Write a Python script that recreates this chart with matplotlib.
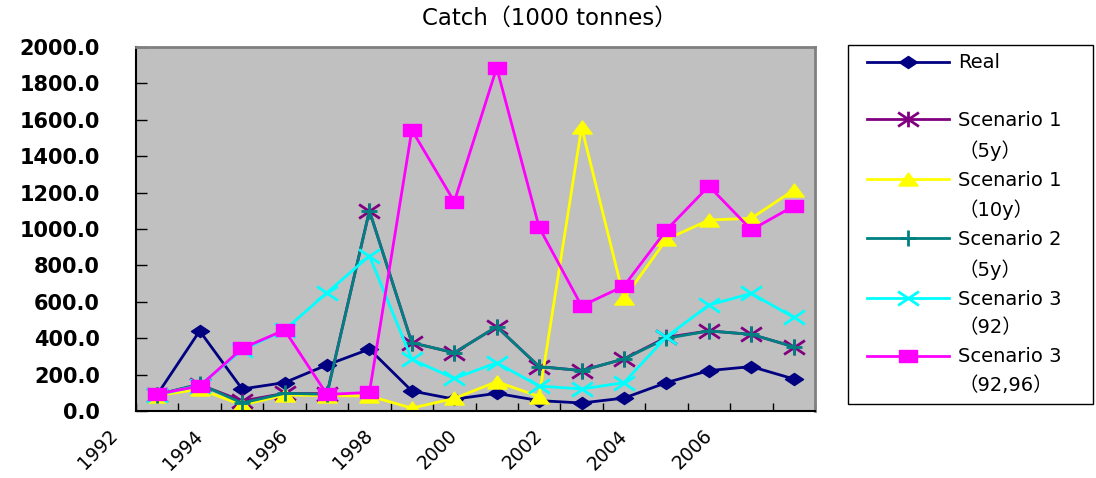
import numpy as np
import matplotlib
matplotlib.use("Agg")
import matplotlib.pyplot as plt
from matplotlib.path import Path
from matplotlib.lines import Line2D
from matplotlib.legend_handler import HandlerLine2D
import matplotlib.transforms as mtransforms

# ---------------- data ----------------
years = list(range(1992, 2008))
tick_years = [1992, 1994, 1996, 1998, 2000, 2002, 2004, 2006]
yticks = [0, 200, 400, 600, 800, 1000, 1200, 1400, 1600, 1800, 2000]

real = [90, 440, 121, 156, 253, 340, 110, 65, 97, 57, 44, 71, 156, 222, 244, 176]
scen1_5y = [90, 145, 55, 97, 95, 1100, 375, 320, 463, 244, 222, 286, 405, 440, 421, 353]
scen1_10y = [85, 120, 33, 88, 85, 82, 16, 69, 161, 79, 1559, 619, 943, 1049, 1059, 1214]
scen2_5y = [90, 148, 44, 97, 92, 1100, 375, 320, 463, 244, 222, 286, 399, 440, 421, 353]
scen3_92 = [88, 140, 335, 445, 650, 852, 284, 179, 265, 137, 121, 156, 408, 582, 646, 514]
scen3_9296 = [93, 137, 344, 445, 91, 102, 1544, 1150, 1886, 1009, 577, 687, 995, 1236, 995, 1126]

names = ["Real", "Scenario 1\n（5y）", "Scenario 1\n（10y）", "Scenario 2\n（5y）",
         "Scenario 3\n（92）", "Scenario 3\n（92,96）"]
title = "Catch（1000 tonnes）"

# ---------------- marker shapes ----------------
diamond = Path([(-1, 0), (0, 0.67), (1, 0), (0, -0.67), (-1, 0)],
               [Path.MOVETO, Path.LINETO, Path.LINETO, Path.LINETO, Path.CLOSEPOLY])
rect = Path([(-1, -0.67), (1, -0.67), (1, 0.67), (-1, 0.67), (-1, -0.67)],
            [Path.MOVETO, Path.LINETO, Path.LINETO, Path.LINETO, Path.CLOSEPOLY])
tri = Path([(-1, -0.67), (1, -0.67), (0, 0.67), (-1, -0.67)],
           [Path.MOVETO, Path.LINETO, Path.LINETO, Path.CLOSEPOLY])
star = Path([(-1, -0.67), (1, 0.67), (-1, 0.67), (1, -0.67), (0, -0.75), (0, 0.75)],
            [Path.MOVETO, Path.LINETO, Path.MOVETO, Path.LINETO, Path.MOVETO, Path.LINETO])
cross = Path([(-1, -0.67), (1, 0.67), (-1, 0.67), (1, -0.67)],
             [Path.MOVETO, Path.LINETO, Path.MOVETO, Path.LINETO])
plus = Path([(-1, 0), (1, 0), (0, -1), (0, 1)],
            [Path.MOVETO, Path.LINETO, Path.MOVETO, Path.LINETO])

series = [
    (real, "#000080", dict(marker=diamond, markersize=13, markerfacecolor="#000080",
                           markeredgecolor="#000080")),
    (scen1_5y, "#800080", dict(marker=star, markersize=15, markeredgewidth=2,
                               markeredgecolor="#800080", markerfacecolor="none")),
    (scen1_10y, "#FFFF00", dict(marker=tri, markersize=14, markerfacecolor="#FFFF00",
                                markeredgecolor="#FFFF00")),
    (scen2_5y, "#008080", dict(marker=plus, markersize=12, markeredgewidth=2,
                               markeredgecolor="#008080", markerfacecolor="none")),
    (scen3_92, "#00FFFF", dict(marker=cross, markersize=15, markeredgewidth=2,
                               markeredgecolor="#00FFFF", markerfacecolor="none")),
    (scen3_9296, "#FF00FF", dict(marker=rect, markersize=13, markerfacecolor="#FF00FF",
                                 markeredgecolor="#FF00FF")),
]

W, H = 1096, 478
fig = plt.figure(figsize=(W / 100, H / 100), dpi=100)
ax = fig.add_axes([136 / W, 1 - 411 / H, (815 - 136) / W, (411 - 47) / H])
ax.set_facecolor("#C0C0C0")

handles = []
for (vals, col, mk) in series:
    ln, = ax.plot(years, vals, color=col, linewidth=2, **mk)
    handles.append(ln)

ax.set_xlim(1991.5, 2007.5)
ax.set_ylim(0, 2000)

# y axis
ax.set_yticks(yticks)
ax.set_yticklabels([f"{v:.1f}" for v in yticks], fontsize=15, fontweight="bold",
                   family="DejaVu Sans")
ax.tick_params(axis="y", direction="in", length=8, width=1, pad=26, color="black")

# x axis: boundary ticks (minor), labels on even years (major)
ax.set_xticks([y - 0.5 for y in years] + [years[-1] + 0.5], minor=True)
ax.set_xticks(tick_years)
ax.set_xticklabels([str(y) for y in tick_years], fontsize=13.5, rotation=45,
                   ha="right", va="top", rotation_mode="anchor", family="DejaVu Sans")
ax.tick_params(axis="x", which="minor", direction="in", length=6, width=1, color="black")
ax.tick_params(axis="x", which="major", length=0, pad=11)
offset = mtransforms.ScaledTranslation(-49 / 100, 0, fig.dpi_scale_trans)
for lab in ax.get_xticklabels():
    lab.set_transform(lab.get_transform() + offset)

for s in ["left", "bottom"]:
    ax.spines[s].set_color("black")
    ax.spines[s].set_linewidth(1.5)
for s in ["top", "right"]:
    ax.spines[s].set_color("#808080")
    ax.spines[s].set_linewidth(2)

# title
fig.text(550 / W, 1 - 18 / H, title, ha="center", va="center", fontsize=16.5,
         family=["DejaVu Sans", "Noto Sans CJK JP"])

# legend: first line with handle, second line as blank-handle row
blank = Line2D([], [], linestyle="none", marker=None)
leg_handles, leg_labels = [], []
for h, name in zip(handles, names):
    parts = name.split("\n")
    leg_handles.append(h)
    leg_labels.append(parts[0])
    leg_handles.append(blank)
    leg_labels.append(parts[1] if len(parts) > 1 else "")

fs = 14
leg = fig.legend(leg_handles, leg_labels,
                 loc="upper left",
                 bbox_to_anchor=(848 / W, 1 - 45 / H, (1093 - 848) / W, 0.0),
                 bbox_transform=fig.transFigure, mode="expand", borderaxespad=0,
                 prop={"family": ["DejaVu Sans", "Noto Sans CJK JP"], "size": fs},
                 frameon=True, fancybox=False, edgecolor="black", facecolor="white",
                 framealpha=1, borderpad=0.43, labelspacing=0.51, handlelength=4.78,
                 handletextpad=0.46, numpoints=1,
                 handler_map={Line2D: HandlerLine2D(xpad=0.55)})
leg.get_frame().set_linewidth(1.0)

fig.savefig("out.png", dpi=100)
